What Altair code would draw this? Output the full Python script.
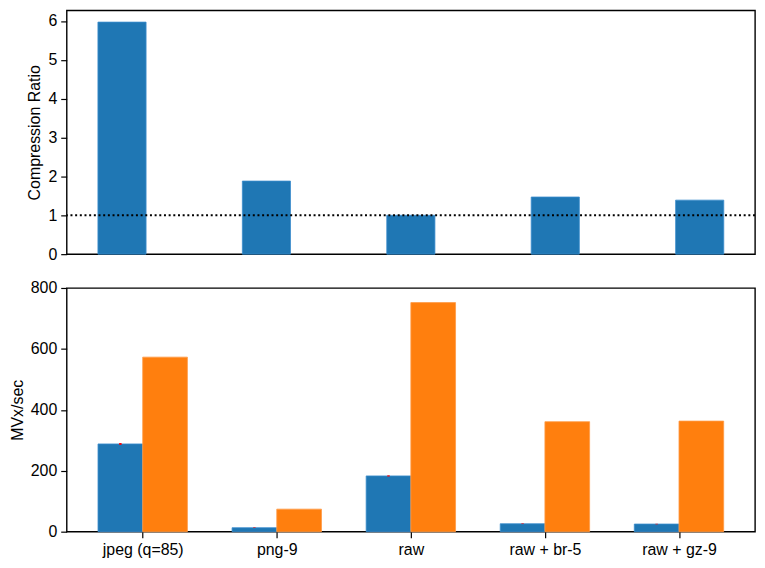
import altair as alt
import pandas as pd

categories = ["jpeg (q=85)", "png-9", "raw", "raw + br-5", "raw + gz-9"]
positions = [0, 1, 2, 3, 4]
ratio = [5.97, 1.88, 1.0, 1.47, 1.39]
speed_blue = [288, 13, 183, 26, 25]
speed_blue_err = [3, 1, 2, 1, 1]
speed_orange = [573, 74, 752, 361, 363]
ref_line = [1]
top_ticks = [0, 1, 2, 3, 4, 5, 6]
bottom_ticks = [0, 200, 400, 600, 800]

BLUE = "#1f77b4"
ORANGE = "#ff7f0e"
W = 692
H = 245
FONT = "Liberation Sans"

top_df = pd.DataFrame({"pos": positions, "cat": categories, "ratio": ratio})
bot_df = pd.DataFrame({
    "pos": positions, "cat": categories,
    "blue": speed_blue, "err": speed_blue_err, "orange": speed_orange,
})
ref_df = pd.DataFrame({"v": ref_line})

label_expr = "[" + ",".join('"%s"' % c for c in categories) + "][datum.value]"

x_top = alt.Scale(domain=[-0.383, 4.383], nice=False, zero=False)
x_bot = alt.Scale(domain=[-0.567, 4.567], nice=False, zero=False)

top_bars = alt.Chart(top_df).transform_calculate(
    x0="datum.pos - 1/6", x1="datum.pos + 1/6"
).mark_bar(color=BLUE, stroke="#3a8ccc", strokeWidth=0.8).encode(
    x=alt.X("x0:Q", scale=x_top, axis=None),
    x2="x1:Q",
    y=alt.Y("ratio:Q", scale=alt.Scale(domain=[0, 6.27], nice=False),
            axis=alt.Axis(values=top_ticks, title="Compression Ratio", format="d")),
    y2=alt.datum(0),
)
top_rule = alt.Chart(ref_df).mark_rule(
    color="black", strokeDash=[2, 2.7], strokeWidth=2
).encode(y="v:Q")

top = alt.layer(top_bars, top_rule).properties(width=W, height=H)

bot_blue = alt.Chart(bot_df).transform_calculate(
    x0="datum.pos - 1/3", x1="datum.pos"
).mark_bar(color=BLUE, stroke="#3a8ccc", strokeWidth=0.8).encode(
    x=alt.X("x0:Q", scale=x_bot,
            axis=alt.Axis(values=positions, labelExpr=label_expr, title=None)),
    x2="x1:Q",
    y=alt.Y("blue:Q", scale=alt.Scale(domain=[0, 800], nice=False),
            axis=alt.Axis(values=bottom_ticks, title="MVx/sec", format="d")),
    y2=alt.datum(0),
)
bot_orange = alt.Chart(bot_df).transform_calculate(
    x0="datum.pos", x1="datum.pos + 1/3"
).mark_bar(color=ORANGE, stroke="#ff9a45", strokeWidth=0.8).encode(
    x=alt.X("x0:Q", scale=x_bot),
    x2="x1:Q",
    y=alt.Y("orange:Q"),
    y2=alt.datum(0),
)
bot_err = alt.Chart(bot_df).transform_calculate(
    xc="datum.pos - 1/6", lo="datum.blue - datum.err", hi="datum.blue + datum.err"
).mark_rule(color="red", strokeWidth=2.5).encode(
    x=alt.X("xc:Q", scale=x_bot),
    y=alt.Y("lo:Q"),
    y2="hi:Q",
)

bottom = alt.layer(bot_blue, bot_orange, bot_err).properties(width=W, height=H)

chart = alt.vconcat(top, bottom, spacing=34, bounds="flush").properties(
    padding={"left": 0, "top": 0, "right": 0, "bottom": 0},
    background="white",
).configure_view(
    stroke="black", strokeWidth=1.4
).configure_axis(
    grid=False, domain=False,
    labelFont=FONT, titleFont=FONT,
    labelFontSize=16, titleFontSize=16, titleFontWeight="normal",
    labelColor="black", titleColor="black",
    tickColor="black", tickSize=6, tickWidth=1.2,
    labelPadding=4, titlePadding=5,
)

chart.save("out.html", embed_options={"renderer": "svg", "actions": False})
